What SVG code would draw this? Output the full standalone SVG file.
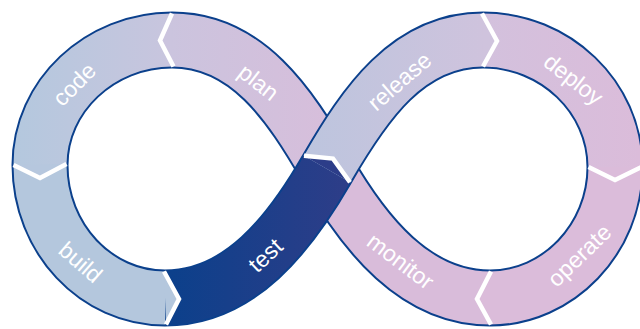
<svg xmlns="http://www.w3.org/2000/svg" width="640" height="329" viewBox="0 0 640 329">
<defs>
<linearGradient id="gCode" gradientUnits="userSpaceOnUse" x1="15" y1="0" x2="175" y2="0"><stop offset="0" stop-color="#b4c8de"/><stop offset="1" stop-color="#c9c5de"/></linearGradient>
<linearGradient id="gPlan" gradientUnits="userSpaceOnUse" x1="170" y1="0" x2="330" y2="0"><stop offset="0" stop-color="#cbc4de"/><stop offset="1" stop-color="#d7bedb"/></linearGradient>
<linearGradient id="gTest" gradientUnits="userSpaceOnUse" x1="165" y1="0" x2="355" y2="0"><stop offset="0" stop-color="#0b408b"/><stop offset="1" stop-color="#2f3d88"/></linearGradient>
<linearGradient id="gRel" gradientUnits="userSpaceOnUse" x1="300" y1="0" x2="485" y2="0"><stop offset="0" stop-color="#bcc5de"/><stop offset="1" stop-color="#cfc3dd"/></linearGradient>
<linearGradient id="gDep" gradientUnits="userSpaceOnUse" x1="485" y1="0" x2="640" y2="0"><stop offset="0" stop-color="#d3c1dd"/><stop offset="1" stop-color="#dbbcda"/></linearGradient>
</defs>
<style>
.edge{fill:none;stroke:#0b408c;stroke-width:57}
.band{fill:none;stroke-width:53}
.chev{fill:none;stroke:#ffffff;stroke-width:4.5;stroke-linejoin:miter}
.lbl{font-family:"Liberation Sans",Arial,sans-serif;font-size:23px;fill:#ffffff;text-anchor:middle}
</style>
<rect width="640" height="329" fill="#ffffff"/>
<g id="code">
<path class="edge" d="M172,40 C100,40 40,96 40,165"/>
<path class="band" stroke="url(#gCode)" d="M172,40 C100,40 40,96 40,165"/>
</g>
<g id="build">
<path class="edge" d="M40,165 C40,238.5 96,298 165,298"/>
<path class="band" stroke="#b4c7dd" d="M40,165 C40,238.5 96,298 165,298"/>
</g>
<g id="plan">
<path class="edge" d="M327,169 C289.5,104 247,40 172,40"/>
<path class="band" stroke="url(#gPlan)" d="M327,169 C289.5,104 247,40 172,40"/>
</g>
<g id="monitor">
<path class="edge" d="M490,298 C415,298 364.5,234 327,169"/>
<path class="band" stroke="#d9bcda" d="M490,298 C415,298 364.5,234 327,169"/>
</g>
<g id="deploy">
<path class="edge" d="M483,40 C555,40 615,97 615,167"/>
<path class="band" stroke="url(#gDep)" d="M483,40 C555,40 615,97 615,167"/>
</g>
<g id="operate">
<path class="edge" d="M615,167 C615,239 558,298 490,298"/>
<path class="band" stroke="#dbbcda" d="M615,167 C615,239 558,298 490,298"/>
</g>
<g id="test">
<path class="edge" d="M165,298 C240,298 289.5,234 327,169"/>
<path class="band" stroke="url(#gTest)" d="M165,298 C240,298 289.5,234 327,169"/>
</g>
<g id="release">
<path class="edge" d="M327,169 C364.5,104 408,40 483,40"/>
<path class="band" stroke="url(#gRel)" d="M327,169 C364.5,104 408,40 483,40"/>
</g>
<g id="connectors">
<polygon fill="#cbc4de" points="172,13.5 160,40.5 173.5,66.5"/>
<polyline class="chev" points="172,13.5 160,40.5 173.5,66.5"/>
<polygon fill="#b6c7de" points="13.5,165 40,178 66.5,164"/>
<polyline class="chev" points="13.5,165 40,178 66.5,164"/>
<polygon fill="#b4c7dd" points="164,271.5 179,299 166,324.5"/>
<polyline class="chev" points="164,271.5 179,299 166,324.5"/>
<polygon fill="#2c3d89" points="304,155.75 333,158.6 350,182.25"/>
<polyline class="chev" points="304,155.75 333,158.6 350,182.25"/>
<polygon fill="#cfc3dd" points="482,13.5 497,41 483,66.5"/>
<polyline class="chev" points="482,13.5 497,41 483,66.5"/>
<polygon fill="#dbbcda" points="588.5,167 615,180 641.5,167"/>
<polyline class="chev" points="588.5,167 615,180 641.5,167"/>
<polygon fill="#dbbcda" points="491,271.5 477,299 491,324.5"/>
<polyline class="chev" points="491,271.5 477,299 491,324.5"/>
</g>
<g id="labels">
<text class="lbl" transform="translate(75,85) rotate(-45)" x="0" y="7">code</text>
<text class="lbl" transform="translate(258,83) rotate(38)" x="0" y="7">plan</text>
<text class="lbl" transform="translate(80,263) rotate(41)" x="0" y="7">build</text>
<text class="lbl" transform="translate(266,256) rotate(-43)" x="0" y="7">test</text>
<text class="lbl" transform="translate(400,82) rotate(-41)" x="0" y="7">release</text>
<text class="lbl" transform="translate(573,80) rotate(38)" x="0" y="7">deploy</text>
<text class="lbl" transform="translate(400,262) rotate(37)" x="0" y="7">monitor</text>
<text class="lbl" transform="translate(580,256) rotate(-44)" x="0" y="7">operate</text>
</g>
</svg>
